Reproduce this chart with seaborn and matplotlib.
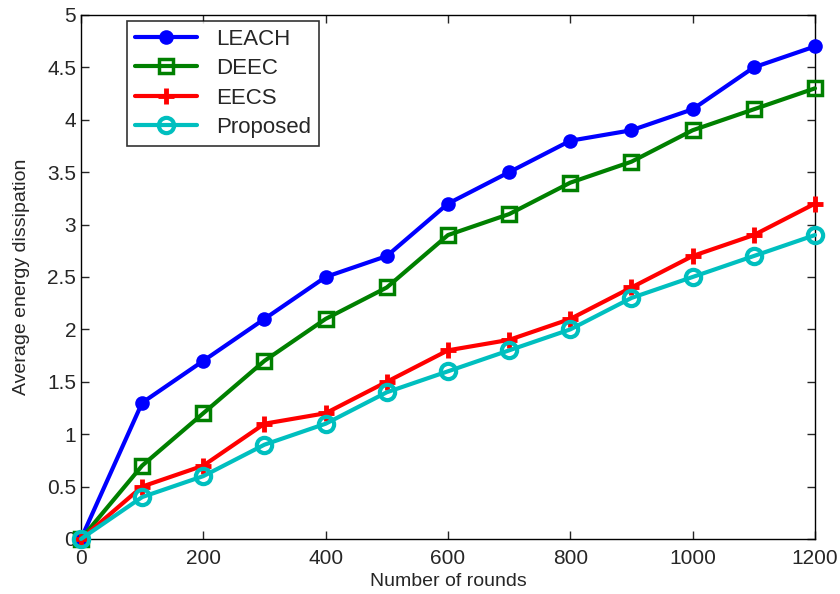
import pandas as pd
import matplotlib
matplotlib.use("Agg")
import matplotlib.pyplot as plt
import seaborn as sns

# data
rounds = [0, 100, 200, 300, 400, 500, 600, 700, 800, 900, 1000, 1100, 1200]
leach = [0, 1.3, 1.7, 2.1, 2.5, 2.7, 3.2, 3.5, 3.8, 3.9, 4.1, 4.5, 4.7]
deec = [0, 0.7, 1.2, 1.7, 2.1, 2.4, 2.9, 3.1, 3.4, 3.6, 3.9, 4.1, 4.3]
eecs = [0, 0.5, 0.7, 1.1, 1.2, 1.5, 1.8, 1.9, 2.1, 2.4, 2.7, 2.9, 3.2]
proposed = [0, 0.4, 0.6, 0.9, 1.1, 1.4, 1.6, 1.8, 2.0, 2.3, 2.5, 2.7, 2.9]

x_ticks = [0, 200, 400, 600, 800, 1000, 1200]
y_ticks = [0, 0.5, 1, 1.5, 2, 2.5, 3, 3.5, 4, 4.5, 5]
y_tick_labels = ["0", "0.5", "1", "1.5", "2", "2.5", "3", "3.5", "4", "4.5", "5"]

df = pd.DataFrame({"rounds": rounds, "LEACH": leach, "DEEC": deec,
                   "EECS": eecs, "Proposed": proposed})
long_df = df.melt(id_vars="rounds", var_name="scheme", value_name="energy")

sns.set_style("ticks")
plt.rcParams["font.family"] = ["Liberation Sans", "DejaVu Sans"]

fig = plt.figure(figsize=(8.4, 5.94), dpi=100)
ax = fig.add_axes([0.0964, 0.0926, 0.8738, 0.8822])

palette = {"LEACH": "#0000ff", "DEEC": "#008000", "EECS": "#ff0000", "Proposed": "#00bfbf"}
styles = {
    "LEACH": dict(marker="o", mfc="#0000ff", ms=9, mew=1.5),
    "DEEC": dict(marker="s", mfc="none", ms=10, mew=2.5),
    "EECS": dict(marker="+", mfc="#ff0000", ms=12, mew=3.5),
    "Proposed": dict(marker="o", mfc="none", ms=11, mew=3),
}

for name in ["LEACH", "DEEC", "EECS", "Proposed"]:
    sub = long_df[long_df["scheme"] == name]
    sns.lineplot(data=sub, x="rounds", y="energy", ax=ax, color=palette[name],
                 linewidth=3, label=name)
    line = ax.lines[-1]
    st = styles[name]
    line.set_marker(st["marker"])
    line.set_markerfacecolor(st["mfc"])
    line.set_markeredgecolor(palette[name])
    line.set_markersize(st["ms"])
    line.set_markeredgewidth(st["mew"])
    line.set_clip_on(False)
    line.set_zorder(3)

ax.set_xlim(0, 1200)
ax.set_ylim(0, 5)
ax.set_xticks(x_ticks)
ax.set_yticks(y_ticks)
ax.set_yticklabels(y_tick_labels)
ax.tick_params(direction="in", top=True, right=True, labelsize=15, length=6, width=1)
ax.tick_params(axis="x", pad=7)
for s in ax.spines.values():
    s.set_linewidth(1)
    s.set_color("black")
ax.set_xlabel("Number of rounds", fontsize=14, labelpad=4)
ax.set_ylabel("Average energy dissipation", fontsize=14, labelpad=12)

leg = ax.legend(loc="upper left", bbox_to_anchor=(0.048, 1.01), fontsize=16,
                frameon=True, fancybox=False, edgecolor="black",
                handlelength=2.8, handletextpad=0.85, borderpad=0.35, labelspacing=0.38)
leg.get_frame().set_linewidth(1.2)

fig.savefig("out.png", dpi=100)
